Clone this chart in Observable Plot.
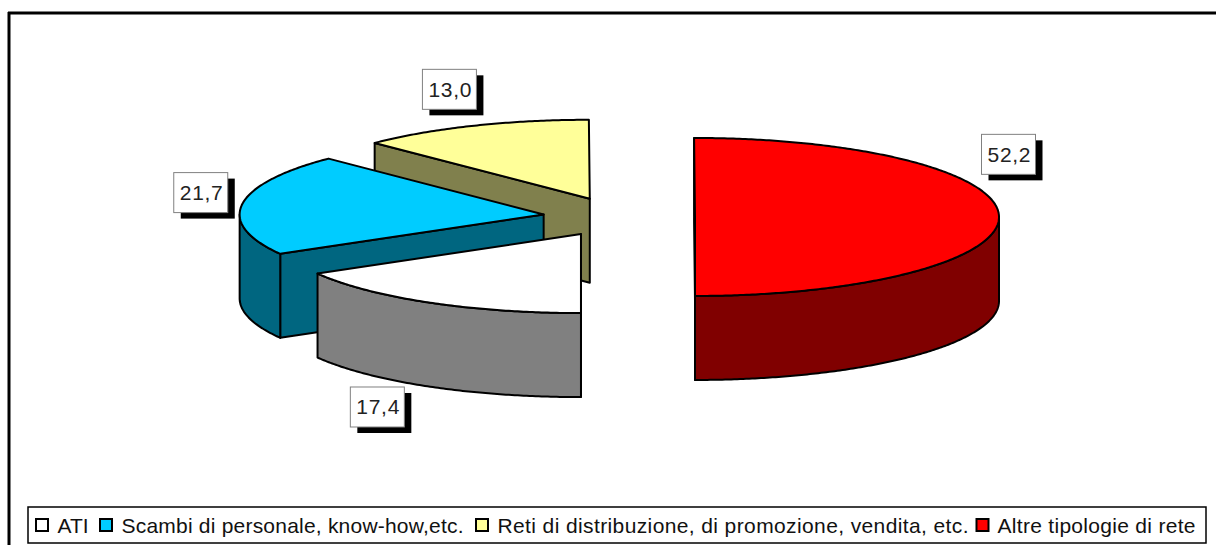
<!DOCTYPE html>
<html>
<head>
<meta charset="utf-8">
<script src="https://cdn.jsdelivr.net/npm/d3@7"></script>
<script src="https://cdn.jsdelivr.net/npm/@observablehq/plot@0.6"></script>
<style>
html,body{margin:0;padding:0;background:#fff;overflow:hidden}
svg{display:block}
</style>
</head>
<body>
<div id="chart"></div>
<script>
// DATA
const categories = ["ATI", "Scambi di personale, know-how,etc.", "Reti di distribuzione, di promozione, vendita, etc.", "Altre tipologie di rete"];
const values = [17.4, 21.7, 13.0, 52.2];
const valueLabels = ["17,4", "21,7", "13,0", "52,2"];
const topColors = ["#ffffff", "#00ccff", "#ffff99", "#ff0000"];
const sideColors = ["#808080", "#006680", "#80804d", "#800000"];

// LAYOUT (pie projection and placement)
const W = 1216, H = 545;
const pie = {cx: 618.5, cy: 216.5, rx: 304, ry: 79, depth: 84, explode: 0.25};
const labelOffsets = [[-51, 105], [-41, -11], [-23, -36], [10, -62]];
const labelBox = {w: 54, h: 40, sx: 7, sy: 6};
const legendBox = {x1: 28, x2: 1206, y1: 507, y2: 543, swatch: 12, midY: 525};
const legendSwatchX = [36, 100, 476, 976.5];
const legendTextX = [57, 121, 497, 997];
const legendTextW = [31, 342, 471, 198];
const labelTextW = 43;

const arcs = d3.pie().sort(null).value(d => d).startAngle(Math.PI).endAngle(3 * Math.PI)(values);
const slices = arcs.map((a, i) => {
  const mid = (a.startAngle + a.endAngle) / 2;
  const c = [pie.cx + pie.explode * pie.rx * Math.sin(mid), pie.cy - pie.explode * pie.ry * Math.cos(mid)];
  return {i, a0: a.startAngle, a1: a.endAngle, mid, c};
});
const rim = (s, t, dz = 0) => ({x: s.c[0] + pie.rx * Math.sin(t), y: s.c[1] - pie.ry * Math.cos(t) + dz});
const steps = (a0, a1) => { const n = Math.max(2, Math.ceil(Math.abs(a1 - a0) / 0.01)); return d3.range(n + 1).map(k => a0 + (a1 - a0) * k / n); };
const close = pts => [...pts, pts[0]];
const face = (pts, fill) => Plot.line(close(pts), {x: "x", y: "y", fill, stroke: "#000", strokeWidth: 2, strokeLinejoin: "round", curve: "linear"});

const wall = (s, t) => {
  const ap = {x: s.c[0], y: s.c[1]}, ap2 = {x: s.c[0], y: s.c[1] + pie.depth};
  return [ap, rim(s, t), rim(s, t, pie.depth), ap2];
};
const pieMarks = [];
// back to front: yellow, blue, ATI, red
[2, 1, 0, 3].forEach(i => {
  const s = slices[i];
  const side = sideColors[i];
  if (-Math.sin(s.a0) > -1e-6) pieMarks.push(face(wall(s, s.a0), side));
  if (Math.sin(s.a1) > -1e-6) pieMarks.push(face(wall(s, s.a1), side));
  // visible part of the rim: the front half of the ellipse
  const f0 = Math.PI / 2, f1 = 3 * Math.PI / 2;
  for (const k of [0, 2]) {
    const lo = Math.max(s.a0, f0 + k * Math.PI), hi = Math.min(s.a1, f1 + k * Math.PI);
    if (hi > lo) {
      const ts = steps(lo, hi);
      pieMarks.push(face([...ts.map(t => rim(s, t)), ...ts.slice().reverse().map(t => rim(s, t, pie.depth))], side));
    }
  }
  const top = [{x: s.c[0], y: s.c[1]}, ...steps(s.a0, s.a1).map(t => rim(s, t))];
  pieMarks.push(face(top, topColors[i]));
});

// value labels
const labelRows = slices.map(s => {
  const p = rim(s, s.mid), o = labelOffsets[s.i];
  return {x: p.x + o[0], y: p.y + o[1], text: valueLabels[s.i]};
});
const legendRows = categories.map((c, i) => ({name: c, color: topColors[i], sx: legendSwatchX[i], tx: legendTextX[i], y: legendBox.midY}));

const chart = Plot.plot({
  width: W, height: H, margin: 0,
  x: {type: "identity", axis: null},
  y: {type: "identity", axis: null},
  marks: [
    // chart frame
    Plot.ruleX([8.5], {y1: 12, y2: H, stroke: "#000", strokeWidth: 3}),
    Plot.ruleY([12.5], {x1: 8, x2: W, stroke: "#000", strokeWidth: 3}),
    ...pieMarks,
    // label boxes
    Plot.rect(labelRows, {x1: d => d.x - labelBox.w / 2 + labelBox.sx, x2: d => d.x + labelBox.w / 2 + labelBox.sx, y1: d => d.y - labelBox.h / 2 + labelBox.sy, y2: d => d.y + labelBox.h / 2 + labelBox.sy, fill: "#000"}),
    Plot.rect(labelRows, {x1: d => d.x - labelBox.w / 2, x2: d => d.x + labelBox.w / 2, y1: d => d.y - labelBox.h / 2, y2: d => d.y + labelBox.h / 2, fill: "#fff", stroke: "#808080", strokeWidth: 1}),
    Plot.text(labelRows, {x: "x", y: d => d.y, text: "text", fontSize: 21, fill: "#222", fontFamily: "Liberation Sans"}),
    // legend
    Plot.rect([legendBox], {x1: "x1", x2: "x2", y1: "y1", y2: "y2", fill: "#fff", stroke: "#000", strokeWidth: 1.5}),
    Plot.rect(legendRows, {x1: "sx", x2: d => d.sx + legendBox.swatch, y1: d => d.y - legendBox.swatch / 2, y2: d => d.y + legendBox.swatch / 2, fill: "color", stroke: "#000", strokeWidth: 2}),
    Plot.text(legendRows, {x: "tx", y: "y", dy: 1, text: "name", textAnchor: "start", fontSize: 21, fill: "#111", fontFamily: "Liberation Sans"})
  ]
});
document.getElementById("chart").append(chart);
// stretch the text runs to the wide character spacing of the reference
const textGroups = chart.querySelectorAll('g[aria-label="text"]');
textGroups[0].querySelectorAll("text").forEach(t => { t.setAttribute("textLength", labelTextW); t.setAttribute("lengthAdjust", "spacing"); });
textGroups[1].querySelectorAll("text").forEach((t, i) => { t.setAttribute("textLength", legendTextW[i]); t.setAttribute("lengthAdjust", "spacing"); });
</script>
</body>
</html>
